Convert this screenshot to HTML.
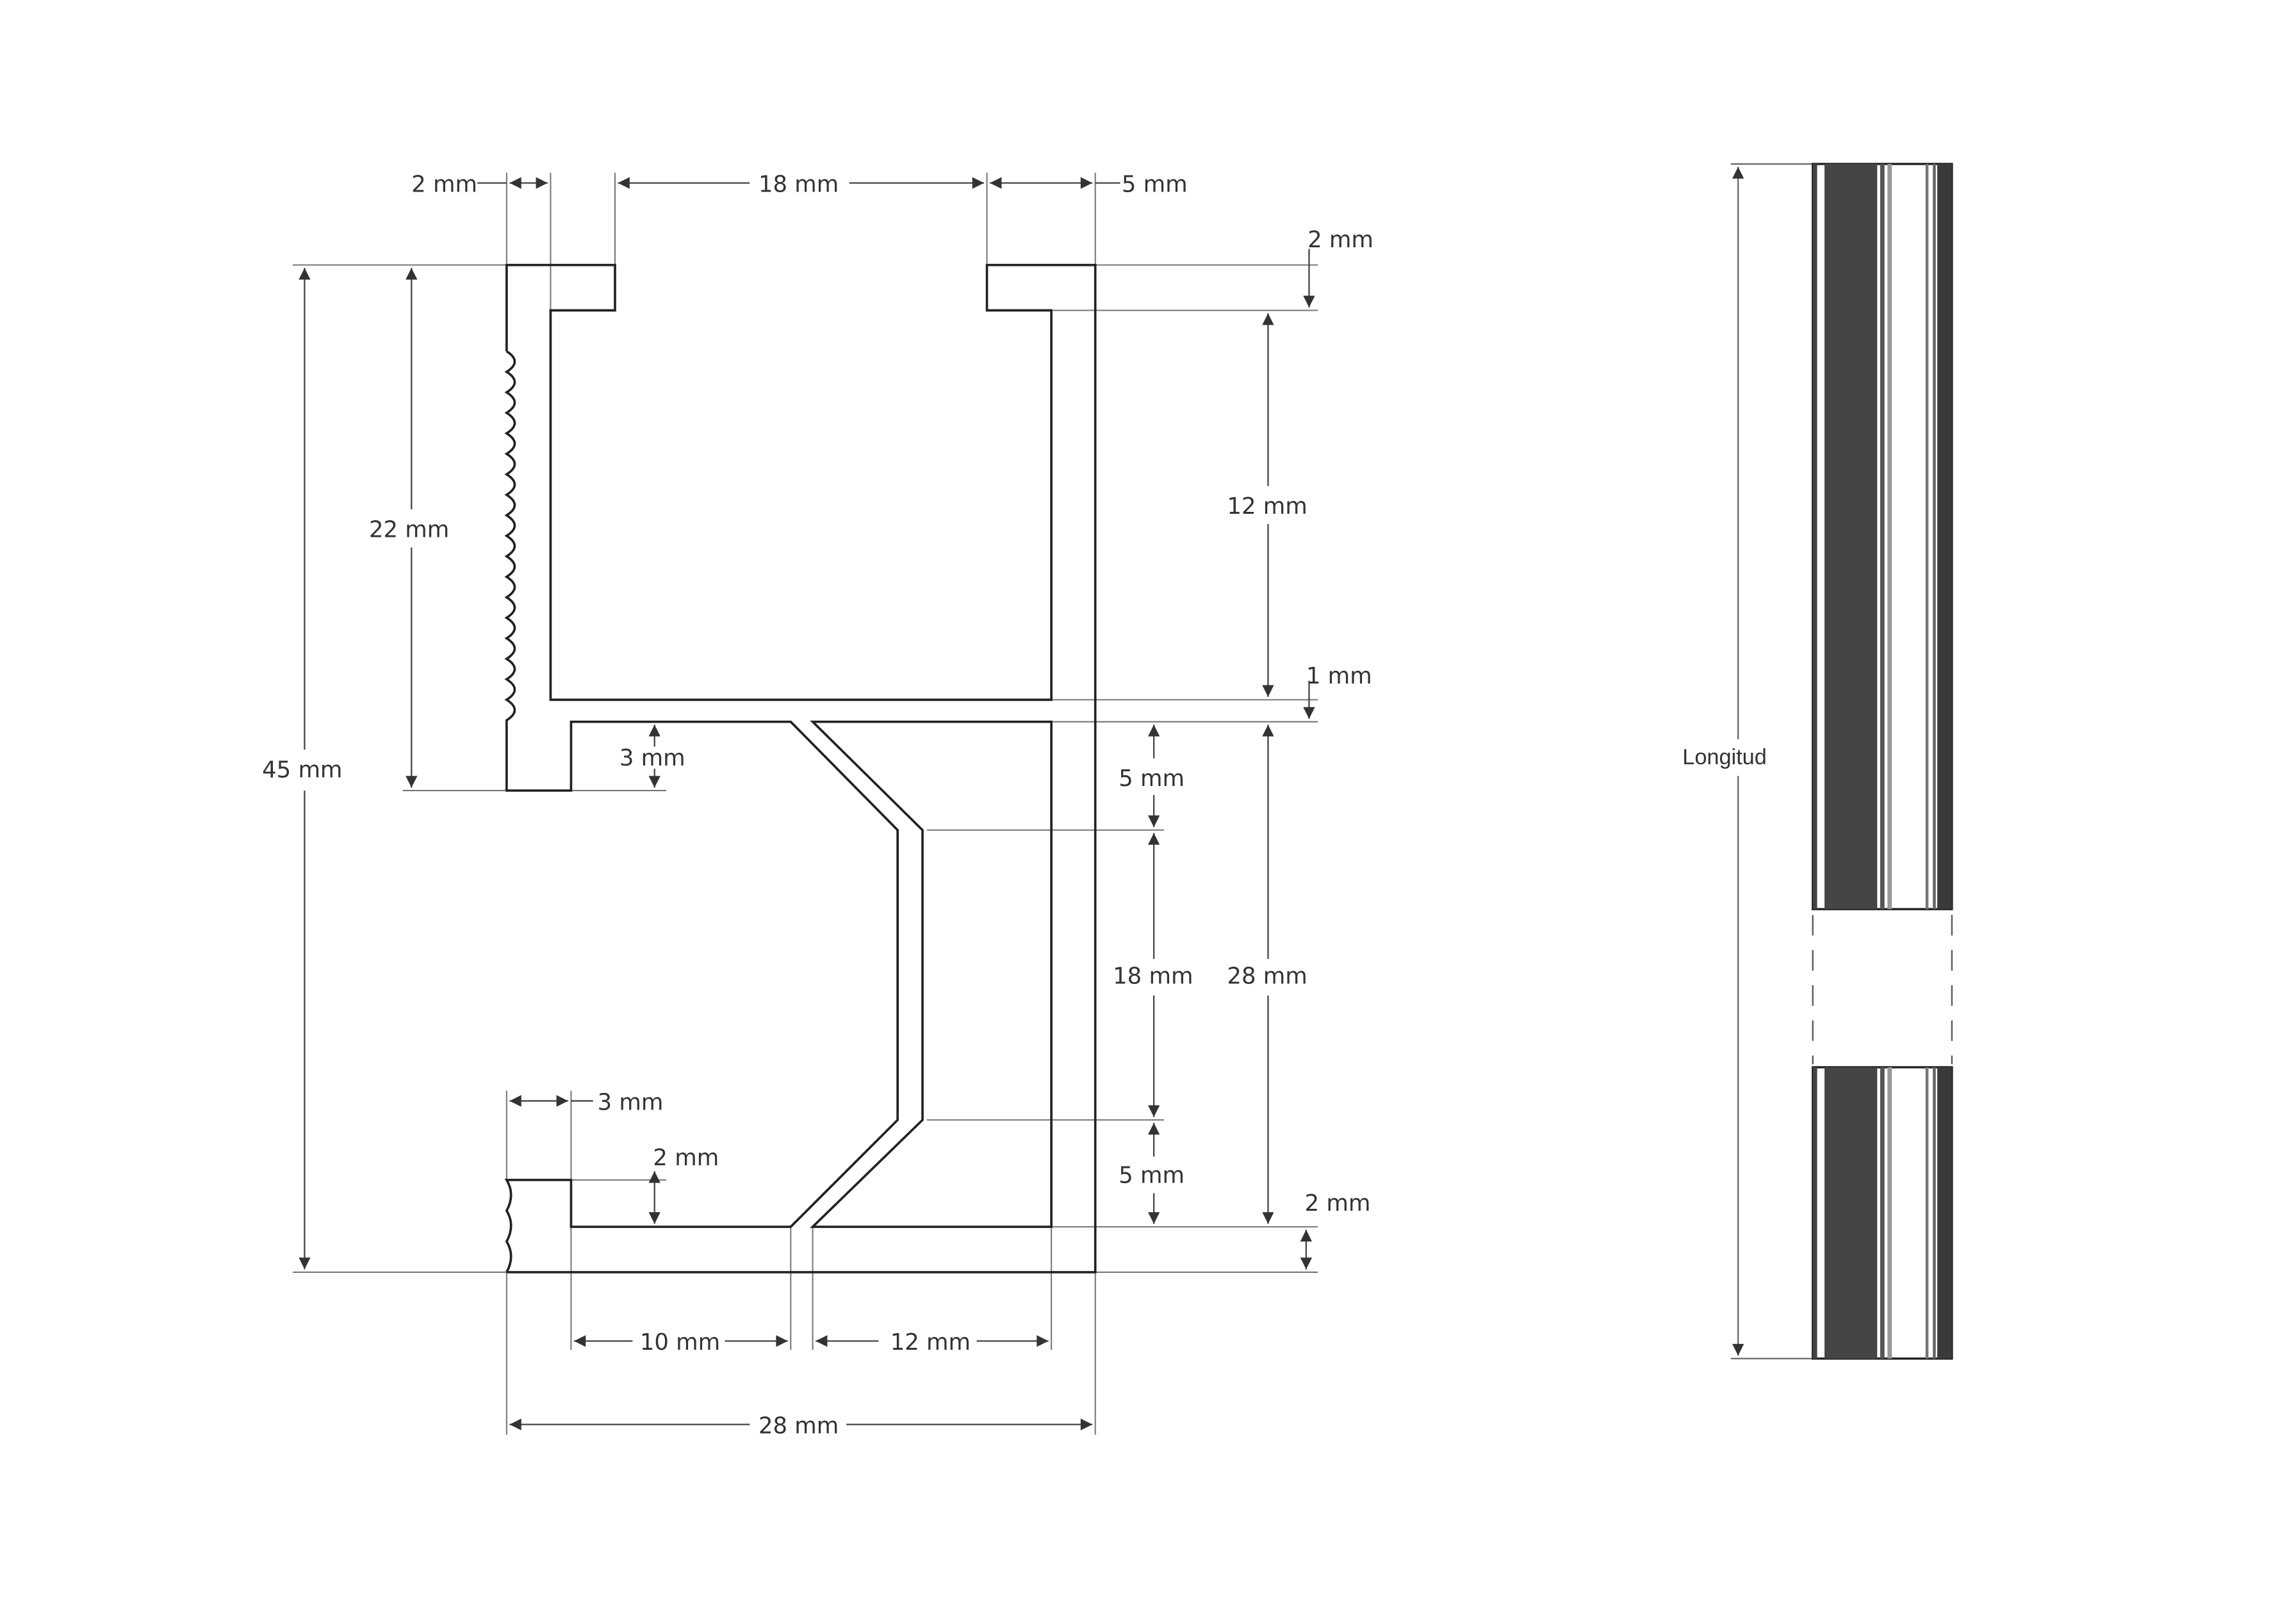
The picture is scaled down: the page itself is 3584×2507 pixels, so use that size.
<!DOCTYPE html>
<html><head><meta charset="utf-8"><style>
html,body{margin:0;padding:0;background:#fff}
svg{display:block}
text{font-family:"DejaVu Sans","Liberation Sans",sans-serif;font-size:15.5px;fill:#333}
</style></head><body>
<svg width="3584" height="2507" viewBox="0 0 1568 1097" preserveAspectRatio="none" xmlns="http://www.w3.org/2000/svg">
<defs>
<marker id="a" viewBox="0 0 10 10" refX="10" refY="5" markerWidth="10" markerHeight="8" orient="auto-start-reverse" markerUnits="userSpaceOnUse"><path d="M0,0L10,5L0,10z" fill="#333"/></marker>
</defs>
<rect width="1568" height="1097" fill="#fff"/>
<g stroke="#777" stroke-width="0.9" fill="none">
<line x1="346" y1="118" x2="346" y2="181"/><line x1="376" y1="118" x2="376" y2="212"/>
<line x1="420" y1="118" x2="420" y2="181"/><line x1="674" y1="118" x2="674" y2="181"/>
<line x1="748" y1="118" x2="748" y2="181"/>
<line x1="200" y1="181" x2="346" y2="181"/><line x1="748" y1="181" x2="900" y2="181"/>
<line x1="718" y1="212" x2="900" y2="212"/>
<line x1="718" y1="478" x2="900" y2="478"/><line x1="718" y1="493" x2="900" y2="493"/>
<line x1="275" y1="540" x2="346" y2="540"/><line x1="390" y1="540" x2="455" y2="540"/>
<line x1="633" y1="567" x2="795" y2="567"/><line x1="633" y1="765" x2="795" y2="765"/>
<line x1="390" y1="806" x2="455" y2="806"/>
<line x1="718" y1="838" x2="900" y2="838"/>
<line x1="200" y1="869" x2="346" y2="869"/><line x1="748" y1="869" x2="900" y2="869"/>
<line x1="346" y1="745" x2="346" y2="806"/><line x1="390" y1="745" x2="390" y2="806"/>
<line x1="346" y1="869" x2="346" y2="980"/><line x1="748" y1="869" x2="748" y2="980"/>
<line x1="390" y1="838" x2="390" y2="922"/><line x1="540" y1="838" x2="540" y2="922"/>
<line x1="555" y1="838" x2="555" y2="922"/><line x1="718" y1="838" x2="718" y2="922"/>
</g>
<g stroke="#444" stroke-width="1" fill="none">
<line x1="326" y1="125" x2="346" y2="125"/><line x1="348" y1="125" x2="374" y2="125" marker-start="url(#a)" marker-end="url(#a)"/>
<line x1="422" y1="125" x2="512" y2="125" marker-start="url(#a)"/><line x1="580" y1="125" x2="672" y2="125" marker-end="url(#a)"/>
<line x1="676" y1="125" x2="746" y2="125" marker-start="url(#a)" marker-end="url(#a)"/><line x1="748" y1="125" x2="765" y2="125"/>
<line x1="208" y1="183" x2="208" y2="512" marker-start="url(#a)"/><line x1="208" y1="540" x2="208" y2="867" marker-end="url(#a)"/>
<line x1="281" y1="183" x2="281" y2="348" marker-start="url(#a)"/><line x1="281" y1="374" x2="281" y2="538" marker-end="url(#a)"/>
<line x1="894" y1="170" x2="894" y2="210" marker-end="url(#a)"/>
<line x1="866" y1="214" x2="866" y2="332" marker-start="url(#a)"/><line x1="866" y1="358" x2="866" y2="476" marker-end="url(#a)"/>
<line x1="894" y1="465" x2="894" y2="491" marker-end="url(#a)"/>
<line x1="447" y1="495" x2="447" y2="510" marker-start="url(#a)"/><line x1="447" y1="525" x2="447" y2="538" marker-end="url(#a)"/>
<line x1="788" y1="495" x2="788" y2="518" marker-start="url(#a)"/><line x1="788" y1="543" x2="788" y2="565" marker-end="url(#a)"/>
<line x1="866" y1="495" x2="866" y2="655" marker-start="url(#a)"/><line x1="866" y1="680" x2="866" y2="836" marker-end="url(#a)"/>
<line x1="788" y1="569" x2="788" y2="655" marker-start="url(#a)"/><line x1="788" y1="680" x2="788" y2="763" marker-end="url(#a)"/>
<line x1="788" y1="767" x2="788" y2="790" marker-start="url(#a)"/><line x1="788" y1="815" x2="788" y2="836" marker-end="url(#a)"/>
<line x1="348" y1="752" x2="388" y2="752" marker-start="url(#a)" marker-end="url(#a)"/><line x1="390" y1="752" x2="405" y2="752"/>
<line x1="447" y1="800" x2="447" y2="836" marker-start="url(#a)" marker-end="url(#a)"/>
<line x1="892" y1="840" x2="892" y2="867" marker-start="url(#a)" marker-end="url(#a)"/>
<line x1="392" y1="916" x2="432" y2="916" marker-start="url(#a)"/><line x1="495" y1="916" x2="538" y2="916" marker-end="url(#a)"/>
<line x1="557" y1="916" x2="600" y2="916" marker-start="url(#a)"/><line x1="667" y1="916" x2="716" y2="916" marker-end="url(#a)"/>
<line x1="348" y1="973" x2="512" y2="973" marker-start="url(#a)"/><line x1="578" y1="973" x2="746" y2="973" marker-end="url(#a)"/>
</g>
<g stroke="#222" stroke-width="1.6" fill="none" stroke-linejoin="miter">
<path d="M346,240 V181 H420 V212 H376 V478 H718 V212 H674 V181 H748 V869 H346"/>
<path d="M346,240 q11,7 0,14 q11,7 0,14 q11,7 0,14 q11,7 0,14 q11,7 0,14 q11,7 0,14 q11,7 0,14 q11,7 0,14 q11,7 0,14 q11,7 0,14 q11,7 0,14 q11,7 0,14 q11,7 0,14 q11,7 0,14 q11,7 0,14 q11,7 0,14 q11,7 0,14 q11,7 0,14 V540 H390 V493 H540 L613,567 V765 L540,838 H390 V806 H346 q6,10 0,21 q6,10 0,21 q6,10 0,21"/>
<path d="M555,493 H718 V838 H555 L630,765 V567 Z"/>
</g>
<text x="281" y="131">2 mm</text>
<text x="518" y="131">18 mm</text>
<text x="766" y="131">5 mm</text>
<text x="893" y="169">2 mm</text>
<text x="838" y="351">12 mm</text>
<text x="252" y="367">22 mm</text>
<text x="892" y="467">1 mm</text>
<text x="423" y="523">3 mm</text>
<text x="179" y="531">45 mm</text>
<text x="764" y="537">5 mm</text>
<text x="760" y="672">18 mm</text>
<text x="838" y="672">28 mm</text>
<text x="408" y="758">3 mm</text>
<text x="446" y="796">2 mm</text>
<text x="764" y="808">5 mm</text>
<text x="891" y="827">2 mm</text>
<text x="437" y="922">10 mm</text>
<text x="608" y="922">12 mm</text>
<text x="518" y="979">28 mm</text>
<g stroke="#666" stroke-width="1" fill="none">
<line x1="1187" y1="114" x2="1187" y2="505" marker-start="url(#a)"/>
<line x1="1187" y1="530" x2="1187" y2="926" marker-end="url(#a)"/>
<line x1="1182" y1="112" x2="1238" y2="112"/><line x1="1182" y1="928" x2="1238" y2="928"/>
</g>
<text x="1149" y="522" style="font-family:'Liberation Sans',sans-serif;font-size:15px">Longitud</text>
<rect x="1238" y="112" width="95" height="509" fill="#fff" stroke="#222" stroke-width="1.5"/>
<rect x="1246" y="112" width="36" height="509" fill="#454545"/>
<rect x="1238" y="112" width="3" height="509" fill="#444"/>
<rect x="1284" y="112" width="3" height="509" fill="#555"/>
<rect x="1289" y="112" width="3" height="509" fill="#999"/>
<rect x="1315" y="112" width="2" height="509" fill="#777"/>
<rect x="1320" y="112" width="2" height="509" fill="#666"/>
<rect x="1323" y="112" width="10" height="509" fill="#3a3a3a"/>
<rect x="1238" y="729" width="95" height="199" fill="#fff" stroke="#222" stroke-width="1.5"/>
<rect x="1246" y="729" width="36" height="199" fill="#454545"/>
<rect x="1238" y="729" width="3" height="199" fill="#444"/>
<rect x="1284" y="729" width="3" height="199" fill="#555"/>
<rect x="1289" y="729" width="3" height="199" fill="#999"/>
<rect x="1315" y="729" width="2" height="199" fill="#777"/>
<rect x="1320" y="729" width="2" height="199" fill="#666"/>
<rect x="1323" y="729" width="10" height="199" fill="#3a3a3a"/>
<g stroke="#555" stroke-width="1" stroke-dasharray="14,10">
<line x1="1238" y1="625" x2="1238" y2="727"/><line x1="1333" y1="625" x2="1333" y2="727"/>
</g>
</svg>
</body></html>
